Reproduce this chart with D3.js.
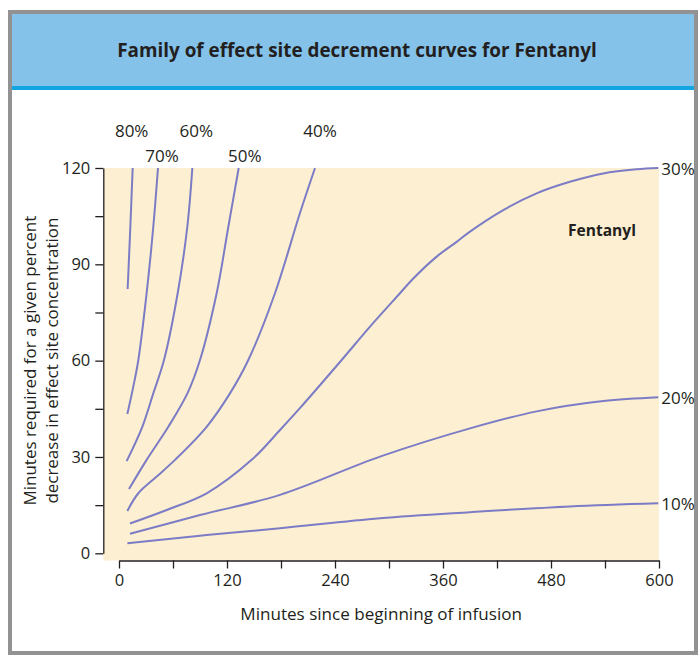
<!DOCTYPE html>
<html>
<head>
<meta charset="utf-8">
<script src="https://cdn.jsdelivr.net/npm/d3@7"></script>
<style>
  html, body { margin: 0; padding: 0; background: #ffffff; }
  svg { display: block; }
  text { font-family: "Open Sans", "Noto Sans", sans-serif; fill: #231f20; }
</style>
</head>
<body>
<svg id="chart" width="700" height="656"></svg>
<script>
// ---- Data (minutes since beginning of infusion, minutes required) ----
const seriesNames = ["80%", "70%", "60%", "50%", "40%", "30%", "20%", "10%"];
const s80 = [[9.6,82.3],[12.6,101.7],[15.2,120]];
const s70 = [[9.3,43.4],[15.9,51.9],[21.5,60.2],[30.7,81],[38.1,101.7],[43.3,120]];
const s60 = [[8.5,28.7],[25.9,39.4],[38.1,49.8],[50,60.2],[65.2,81],[75.9,101.7],[81.5,120]];
const s50 = [[11.1,20],[30.7,29.1],[54.8,39.4],[76,49.8],[90,60.2],[108.5,81],[121.5,101.7],[133,120]];
const s40 = [[9.3,13.2],[21.5,18.7],[41.9,23.9],[62.2,29.1],[97.4,39.4],[123.3,49.8],[143.7,60.2],[173.3,81],[201,105.9],[217.8,120]];
const s30 = [[12.2,9.3],[53,13.5],[97.4,18.7],[147.4,29.1],[178.9,38.4],[201,45.2],[247.4,60.2],[278.9,70.6],[312.2,81],[327,85.6],[353,92.4],[375.2,97],[390,100.2],[427,106.9],[464,112.1],[501,115.7],[538,118.3],[575,119.6],[599.2,120]];
const s20 = [[12.2,6.1],[90,11.9],[178.9,18.2],[290,30.1],[390,38.9],[464.1,44.2],[538.1,47.4],[599.2,48.6]];
const s10 = [[9.3,3.1],[90,5.5],[178.9,7.8],[290,10.9],[390,12.8],[501,14.6],[599.2,15.6]];
const seriesData = [s80, s70, s60, s50, s40, s30, s20, s10];
const xTicks = [0, 120, 240, 360, 480, 600];
const xMinorTicks = [60, 180, 300, 420, 540];
const yTicks = [0, 30, 60, 90, 120];
const yMinorTicks = [15, 45, 75, 105];
const title = "Family of effect site decrement curves for Fentanyl";
const xTitle = "Minutes since beginning of infusion";
const yTitleLines = ["Minutes required for a given percent", "decrease in effect site concentration"];
const drugLabel = "Fentanyl";

// ---- Layout ----
const svg = d3.select("#chart");
const x = d3.scaleLinear().domain([0, 600]).range([119, 659]);
const y = d3.scaleLinear().domain([0, 120]).range([553.3, 168]);
const plotLeft = 103.3, plotBottom = 560.5;
const topLabelDx = [-1, 4, 4, 6, 5];

function fitWidth(sel, target) {
  const fs = parseFloat(sel.style("font-size"));
  const w = sel.node().getComputedTextLength();
  if (w > 0) sel.style("font-size", (fs * target / w).toFixed(2) + "px");
  return sel;
}

// Frame
svg.append("rect").attr("x", 10).attr("y", 12).attr("width", 686).attr("height", 641)
  .attr("fill", "#ffffff").attr("stroke", "#929292").attr("stroke-width", 4);
// Header
svg.append("rect").attr("x", 12).attr("y", 14).attr("width", 682).attr("height", 73)
  .attr("fill", "#84c2ea");
svg.append("rect").attr("x", 12).attr("y", 86).attr("width", 682).attr("height", 4)
  .attr("fill", "#12a5e1");
fitWidth(svg.append("text").attr("x", 357).attr("y", 57).attr("text-anchor", "middle")
  .style("font-size", "17px").style("font-weight", "bold").text(title), 480);

// Plot background
svg.append("rect").attr("x", plotLeft).attr("y", y(120))
  .attr("width", x(600) - plotLeft).attr("height", plotBottom - y(120))
  .attr("fill", "#fdefd1");

// Axes
svg.append("g").attr("transform", `translate(${plotLeft},0)`)
  .call(d3.axisLeft(y).tickValues(yTicks).tickSize(8).tickPadding(5).tickSizeOuter(0));
svg.append("g").attr("transform", `translate(${plotLeft},0)`)
  .call(d3.axisLeft(y).tickValues(yMinorTicks).tickSize(8).tickFormat("").tickSizeOuter(0))
  .select(".domain").remove();
svg.append("g").attr("transform", `translate(0,${plotBottom})`)
  .call(d3.axisBottom(x).tickValues(xTicks).tickSize(8).tickPadding(6).tickSizeOuter(0));
svg.append("g").attr("transform", `translate(0,${plotBottom})`)
  .call(d3.axisBottom(x).tickValues(xMinorTicks).tickSize(8).tickFormat("").tickSizeOuter(0))
  .select(".domain").remove();

svg.selectAll(".domain, .tick line").attr("stroke", "#231f20").attr("stroke-width", 1.3);
svg.selectAll(".tick text").style("font-size", "16.5px")
  .style("font-family", "'Open Sans', sans-serif").attr("fill", "#231f20");

// Axis titles
fitWidth(svg.append("text").attr("x", (plotLeft + x(600)) / 2).attr("y", 620).attr("text-anchor", "middle")
  .style("font-size", "16px").text(xTitle), 282);
yTitleLines.forEach((t, i) => {
  fitWidth(svg.append("text")
    .attr("transform", `translate(${36 + i * 22},${y(60)}) rotate(-90)`)
    .attr("text-anchor", "middle").style("font-size", "16px").text(t), i === 0 ? 290 : 286);
});

// Curves
const line = d3.line().x(d => x(d[0])).y(d => y(d[1])).curve(d3.curveCatmullRom.alpha(0.5));
svg.append("g").selectAll("path").data(seriesData).join("path")
  .attr("d", line).attr("fill", "none").attr("stroke", "#7c7cc6").attr("stroke-width", 2);

// Curve labels
seriesData.forEach((s, i) => {
  const last = s[s.length - 1];
  if (i < 5) {
    const upper = (i % 2 === 0);
    svg.append("text").attr("x", x(last[0]) + topLabelDx[i]).attr("y", upper ? 137 : 162)
      .attr("text-anchor", "middle").style("font-size", "17px").text(seriesNames[i]);
  } else {
    svg.append("text").attr("x", x(last[0]) + 3).attr("y", y(last[1]) + 7)
      .style("font-size", "17px").text(seriesNames[i]);
  }
});

fitWidth(svg.append("text").attr("x", 568).attr("y", 236)
  .style("font-size", "15px").style("font-weight", "bold").text(drugLabel), 68);
</script>
</body>
</html>
